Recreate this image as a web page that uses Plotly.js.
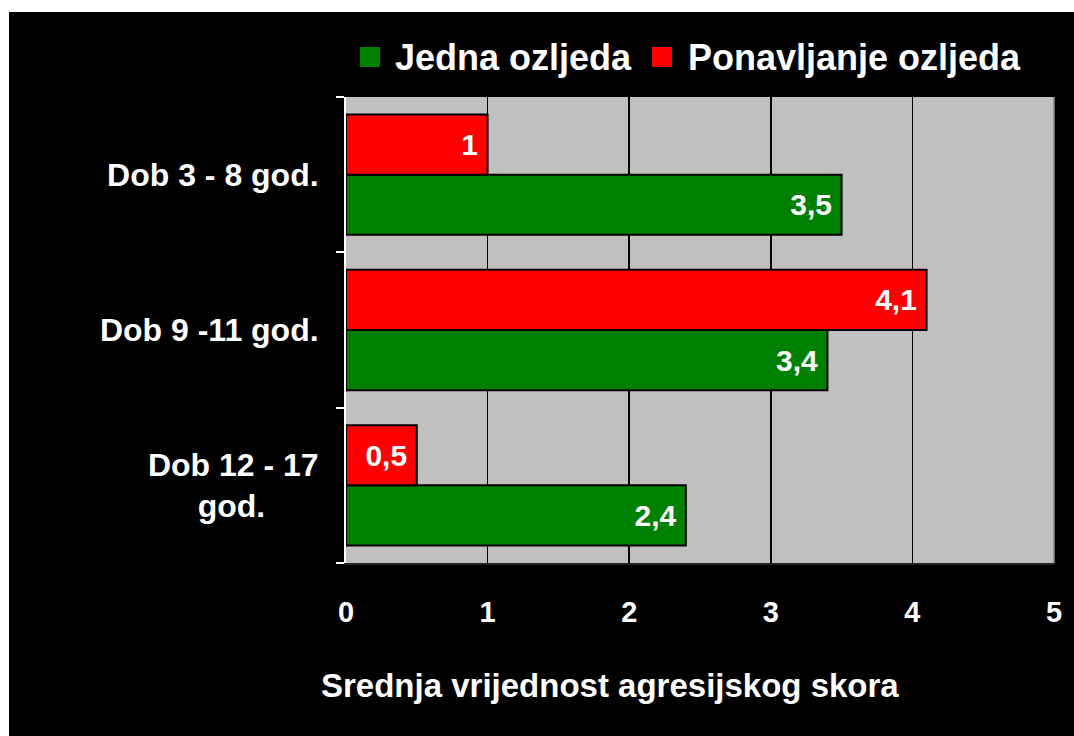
<!DOCTYPE html>
<html>
<head>
<meta charset="utf-8">
<script src="https://cdn.plot.ly/plotly-3.0.1.min.js"></script>
<style>
html,body{margin:0;padding:0;background:#ffffff;width:1074px;height:736px;overflow:hidden;}
#chart{position:absolute;left:9px;top:12px;width:1065px;height:724px;}
</style>
</head>
<body>
<div id="chart"></div>
<script>
const categories = ["Dob 3 - 8 god.", "Dob 9 -11 god.", "Dob 12 - 17<br>god.&nbsp;&nbsp;&nbsp;&nbsp;&nbsp;&nbsp;"];
const seriesNames = ["Jedna ozljeda", "Ponavljanje ozljeda"];
const seriesColors = ["#008000", "#ff0000"];
const jednaOzljeda = [3.5, 3.4, 2.4];
const ponavljanjeOzljeda = [1, 4.1, 0.5];
const xTicks = [0, 1, 2, 3, 4, 5];
const xTitle = "Srednja vrijednost agresijskog skora";

const fmt = v => String(v).replace('.', ',') + '<span style="font-size:24px">&nbsp;</span>';
const F = size => ({family: "Liberation Sans, Arial, sans-serif", color: "#ffffff", weight: "bold", size: size});

const seriesValues = [jednaOzljeda, ponavljanjeOzljeda];
const traces = seriesValues.map((vals, i) => ({
  type: "bar", orientation: "h", name: seriesNames[i], y: categories, x: vals,
  text: vals.map(fmt), textposition: "inside", insidetextanchor: "end",
  textfont: F(30), marker: {color: seriesColors[i], line: {color: "#000000", width: 2}},
  hoverinfo: "x", showlegend: false
}));

// custom legend (larger squares like the reference)
const legendSquares = [[0.0198, 0.048], [0.4322, 0.4605]];
const legendTextX = [0.0664, 0.480];
const shapes = [
  {type: "line", xref: "paper", yref: "paper", x0: 1, x1: 1, y0: 0, y1: 1, line: {color: "#888888", width: 1.5}}
];
const annotations = [
  {xref: "paper", yref: "paper", x: 0.373, y: -0.262, xanchor: "center", yanchor: "middle",
   text: xTitle, showarrow: false, font: F(33)}
];
seriesNames.forEach((n, i) => {
  shapes.push({type: "rect", xref: "paper", yref: "paper", x0: legendSquares[i][0], x1: legendSquares[i][1],
               y0: 1.0644, y1: 1.1073, fillcolor: seriesColors[i], line: {width: 0}});
  annotations.push({xref: "paper", yref: "paper", x: legendTextX[i], y: 1.0858, xanchor: "left", yanchor: "middle",
                    text: n, showarrow: false, font: F(36)});
});

const layout = {
  width: 1065, height: 724,
  paper_bgcolor: "#000000", plot_bgcolor: "#c0c0c0",
  margin: {l: 337, r: 20, t: 85, b: 173, pad: 0},
  barmode: "group", bargap: 0.225, bargroupgap: 0,
  showlegend: false,
  xaxis: {range: [0, 5], tickvals: xTicks, ticktext: xTicks.map(String), ticks: "",
          showgrid: true, gridcolor: "#000000", gridwidth: 1.5, zeroline: false,
          showline: true, linecolor: "#222222", linewidth: 1.5, mirror: false,
          tickfont: F(29), ticklabelstandoff: 23},
  yaxis: {type: "category", categoryorder: "array", categoryarray: categories.slice().reverse(),
          tickson: "boundaries", ticks: "outside", ticklen: 8, tickwidth: 2, tickcolor: "#ffffff",
          showline: true, linecolor: "#ffffff", linewidth: 2, showgrid: false, zeroline: false,
          tickfont: F(32), ticklabelstandoff: 19},
  shapes: shapes,
  annotations: annotations
};

Plotly.newPlot("chart", traces, layout, {displayModeBar: false, staticPlot: true});
</script>
</body>
</html>
